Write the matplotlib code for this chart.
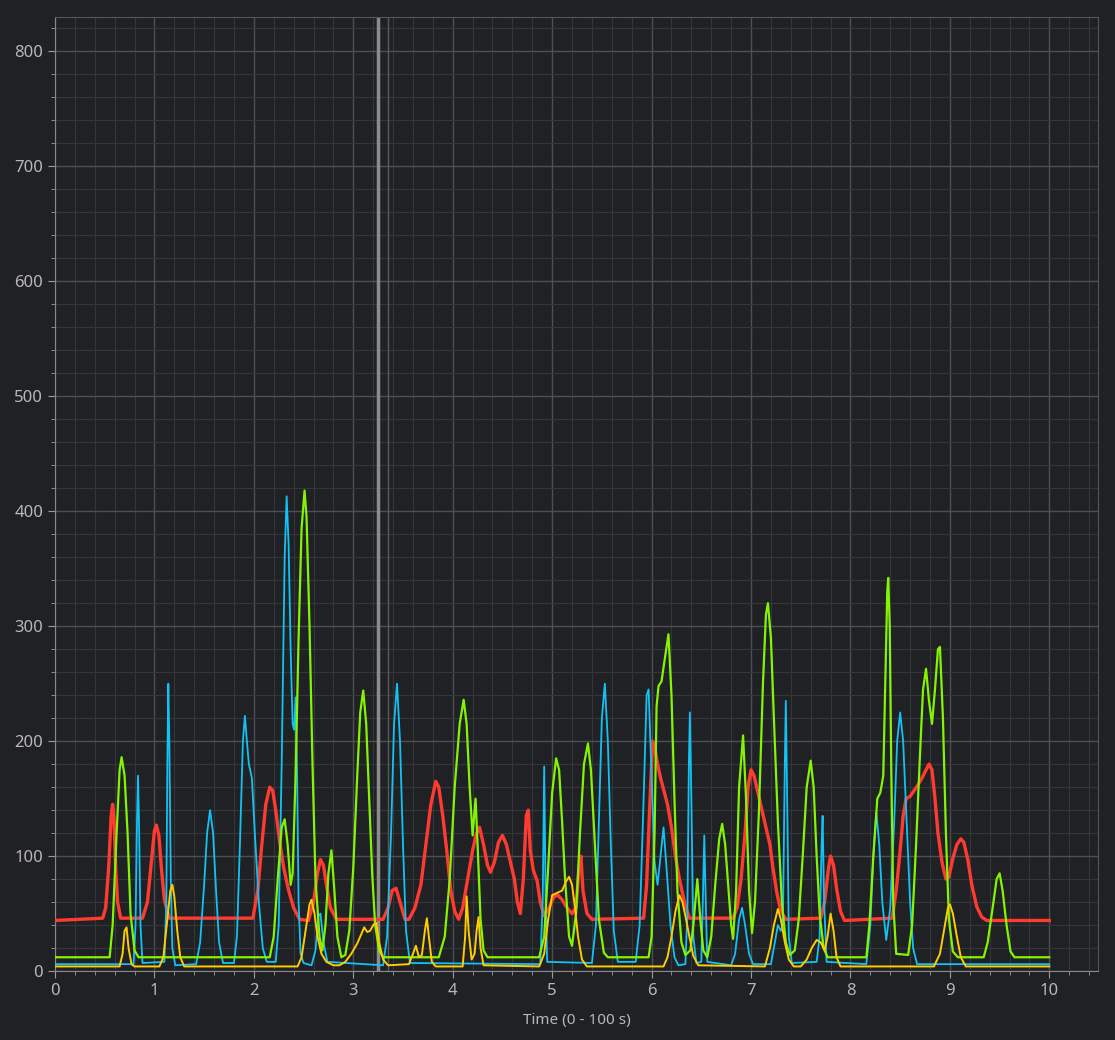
import numpy as np
import matplotlib
matplotlib.use("Agg")
import matplotlib.pyplot as plt
from matplotlib.ticker import MultipleLocator, AutoMinorLocator

# key points, as (time, value) pairs
red_pts = [
    (0.0, 44), (0.48, 46), (0.51, 55), (0.54, 90), (0.565, 135), (0.58, 145), (0.595, 130), (0.61, 90),
    (0.63, 60), (0.66, 46), (0.88, 46), (0.93, 60), (0.97, 95), (1.0, 122), (1.02, 127), (1.045, 118),
    (1.07, 90), (1.1, 62), (1.15, 46), (1.99, 46), (2.04, 70), (2.08, 110), (2.12, 145), (2.16, 160),
    (2.19, 157), (2.22, 140), (2.26, 112), (2.3, 90), (2.35, 70), (2.4, 55), (2.46, 45), (2.55, 44),
    (2.6, 60), (2.64, 85), (2.67, 97), (2.7, 92), (2.73, 75), (2.77, 55), (2.83, 45), (3.3, 45),
    (3.35, 55), (3.39, 70), (3.43, 72), (3.47, 60), (3.52, 45), (3.56, 45), (3.62, 55), (3.68, 75),
    (3.73, 110), (3.78, 145), (3.83, 165), (3.86, 160), (3.9, 135), (3.94, 105), (3.98, 70), (4.02, 52),
    (4.06, 45), (4.1, 55), (4.15, 80), (4.2, 105), (4.24, 120), (4.27, 125), (4.31, 110), (4.35, 92),
    (4.38, 86), (4.42, 95), (4.46, 112), (4.5, 118), (4.54, 110), (4.58, 95), (4.62, 80), (4.65, 60),
    (4.68, 50), (4.71, 80), (4.74, 135), (4.76, 140), (4.78, 105), (4.81, 88), (4.85, 78), (4.88, 60),
    (4.92, 48), (4.97, 55), (5.02, 65), (5.06, 66), (5.1, 62), (5.15, 55), (5.2, 50), (5.24, 55),
    (5.27, 90), (5.29, 100), (5.31, 70), (5.35, 50), (5.4, 45), (5.92, 46), (5.95, 75), (5.98, 140),
    (6.01, 200), (6.03, 195), (6.06, 180), (6.09, 168), (6.12, 158), (6.16, 145), (6.2, 125), (6.24, 100),
    (6.28, 80), (6.33, 60), (6.38, 46), (6.82, 46), (6.86, 55), (6.9, 80), (6.94, 120), (6.97, 160),
    (7.0, 175), (7.03, 170), (7.07, 155), (7.11, 140), (7.15, 125), (7.19, 110), (7.22, 90), (7.26, 68),
    (7.3, 52), (7.35, 45), (7.7, 46), (7.74, 60), (7.78, 90), (7.8, 100), (7.83, 92), (7.86, 72),
    (7.9, 52), (7.94, 44), (8.42, 46), (8.46, 70), (8.5, 105), (8.53, 135), (8.56, 150), (8.6, 152),
    (8.64, 157), (8.68, 162), (8.72, 168), (8.76, 175), (8.79, 180), (8.82, 175), (8.85, 150), (8.88, 120),
    (8.92, 95), (8.96, 80), (8.99, 82), (9.03, 98), (9.07, 110), (9.11, 115), (9.14, 112), (9.18, 97),
    (9.22, 75), (9.27, 56), (9.32, 47), (9.37, 44), (10.0, 44),
]

cyan_pts = [
    (0.0, 6), (0.79, 6), (0.81, 40), (0.825, 130), (0.835, 170), (0.845, 130), (0.86, 40), (0.88, 7),
    (1.1, 8), (1.12, 60), (1.13, 180), (1.14, 250), (1.15, 200), (1.165, 80), (1.18, 20), (1.21, 5),
    (1.42, 6), (1.46, 25), (1.5, 75), (1.53, 120), (1.56, 140), (1.59, 120), (1.62, 70), (1.65, 25),
    (1.69, 7), (1.8, 7), (1.83, 30), (1.86, 110), (1.89, 200), (1.91, 222), (1.93, 200), (1.95, 180),
    (1.98, 168), (2.01, 120), (2.05, 60), (2.09, 20), (2.13, 8), (2.22, 8), (2.25, 40), (2.28, 180),
    (2.31, 360), (2.33, 413), (2.35, 370), (2.37, 280), (2.39, 215), (2.405, 210), (2.42, 238), (2.435, 170),
    (2.45, 60), (2.47, 15), (2.5, 7), (2.58, 5), (2.62, 18), (2.65, 48), (2.67, 50), (2.7, 25),
    (2.74, 8), (3.3, 5), (3.34, 30), (3.38, 120), (3.41, 215), (3.44, 250), (3.47, 200), (3.5, 110),
    (3.53, 35), (3.57, 7), (4.88, 6), (4.905, 60), (4.92, 178), (4.935, 60), (4.95, 8), (5.4, 7),
    (5.44, 40), (5.47, 130), (5.5, 220), (5.53, 250), (5.56, 200), (5.59, 110), (5.62, 35), (5.66, 8),
    (5.84, 8), (5.88, 40), (5.92, 150), (5.95, 240), (5.97, 245), (6.0, 170), (6.03, 95), (6.06, 75),
    (6.09, 100), (6.12, 125), (6.15, 90), (6.19, 40), (6.23, 12), (6.27, 5), (6.34, 6), (6.36, 50),
    (6.375, 180), (6.385, 225), (6.4, 150), (6.42, 30), (6.45, 7), (6.5, 8), (6.515, 60), (6.53, 118),
    (6.545, 60), (6.56, 8), (6.8, 5), (6.84, 15), (6.88, 45), (6.91, 55), (6.94, 40), (6.98, 15),
    (7.02, 6), (7.2, 6), (7.24, 25), (7.27, 40), (7.3, 35), (7.32, 40), (7.34, 180), (7.35, 235),
    (7.365, 140), (7.38, 30), (7.41, 7), (7.66, 8), (7.69, 30), (7.71, 110), (7.72, 135), (7.735, 60),
    (7.76, 8), (8.16, 6), (8.2, 40), (8.23, 100), (8.26, 138), (8.29, 110), (8.32, 60), (8.36, 27),
    (8.4, 55), (8.44, 130), (8.47, 200), (8.5, 225), (8.53, 200), (8.56, 140), (8.6, 60), (8.63, 20),
    (8.67, 6), (10.0, 6),
]

green_pts = [
    (0.0, 12), (0.55, 12), (0.58, 40), (0.62, 120), (0.65, 175), (0.67, 186), (0.7, 170), (0.73, 120),
    (0.76, 50), (0.8, 18), (0.84, 12), (2.16, 12), (2.2, 30), (2.24, 80), (2.28, 125), (2.31, 132),
    (2.34, 110), (2.37, 75), (2.39, 85), (2.42, 170), (2.45, 290), (2.48, 385), (2.51, 418), (2.53, 395),
    (2.56, 300), (2.59, 180), (2.62, 80), (2.66, 30), (2.69, 18), (2.72, 40), (2.75, 85), (2.78, 105),
    (2.81, 70), (2.84, 30), (2.88, 12), (2.92, 14), (2.96, 35), (3.0, 90), (3.04, 170), (3.07, 225),
    (3.1, 244), (3.13, 215), (3.16, 150), (3.19, 85), (3.22, 40), (3.26, 18), (3.3, 12), (3.86, 12),
    (3.92, 30), (3.97, 80), (4.02, 160), (4.07, 215), (4.11, 236), (4.14, 215), (4.17, 160), (4.2, 118),
    (4.23, 150), (4.25, 110), (4.28, 45), (4.31, 18), (4.35, 12), (4.87, 12), (4.92, 30), (4.96, 90),
    (5.0, 155), (5.04, 185), (5.07, 175), (5.1, 130), (5.13, 80), (5.17, 30), (5.2, 22), (5.24, 50),
    (5.28, 120), (5.32, 180), (5.36, 198), (5.39, 175), (5.43, 110), (5.47, 45), (5.52, 16), (5.56, 12),
    (5.97, 12), (6.0, 30), (6.03, 120), (6.05, 230), (6.07, 248), (6.1, 252), (6.13, 270), (6.17, 293),
    (6.2, 240), (6.23, 150), (6.26, 70), (6.3, 25), (6.34, 14), (6.39, 18), (6.42, 40), (6.46, 80),
    (6.49, 45), (6.52, 18), (6.56, 12), (6.6, 30), (6.64, 75), (6.68, 115), (6.71, 128), (6.74, 110),
    (6.77, 75), (6.8, 40), (6.82, 28), (6.85, 70), (6.88, 160), (6.92, 205), (6.95, 150), (6.98, 70),
    (7.01, 33), (7.04, 60), (7.08, 140), (7.12, 250), (7.15, 310), (7.17, 320), (7.2, 290), (7.23, 220),
    (7.27, 130), (7.31, 60), (7.35, 25), (7.39, 14), (7.44, 18), (7.48, 45), (7.52, 100), (7.56, 160),
    (7.6, 183), (7.63, 160), (7.66, 100), (7.69, 50), (7.73, 20), (7.77, 12), (8.16, 12), (8.19, 40),
    (8.23, 100), (8.27, 150), (8.3, 155), (8.33, 170), (8.35, 250), (8.37, 330), (8.38, 342), (8.395, 300),
    (8.41, 180), (8.43, 60), (8.46, 15), (8.58, 14), (8.62, 40), (8.66, 110), (8.7, 190), (8.73, 245),
    (8.76, 263), (8.79, 235), (8.82, 215), (8.85, 245), (8.88, 280), (8.9, 282), (8.93, 220), (8.96, 120),
    (8.99, 45), (9.03, 17), (9.08, 12), (9.34, 12), (9.38, 25), (9.43, 55), (9.47, 80), (9.5, 85),
    (9.53, 70), (9.57, 40), (9.61, 17), (9.65, 12), (10.0, 12),
]

yellow_pts = [
    (0.0, 4), (0.65, 4), (0.68, 15), (0.7, 35), (0.72, 38), (0.74, 20), (0.77, 6), (0.8, 4),
    (1.05, 4), (1.09, 12), (1.13, 45), (1.16, 70), (1.18, 75), (1.2, 65), (1.23, 35), (1.26, 12),
    (1.3, 4), (2.44, 4), (2.48, 12), (2.52, 35), (2.56, 58), (2.58, 62), (2.61, 50), (2.64, 30),
    (2.68, 15), (2.73, 8), (2.8, 5), (2.86, 5), (2.92, 8), (2.98, 15), (3.04, 24), (3.08, 32),
    (3.11, 38), (3.14, 34), (3.17, 35), (3.2, 40), (3.23, 42), (3.26, 25), (3.3, 10), (3.35, 5),
    (3.56, 6), (3.6, 15), (3.63, 22), (3.66, 12), (3.69, 14), (3.72, 35), (3.74, 46), (3.76, 30),
    (3.79, 8), (3.83, 4), (4.1, 4), (4.125, 30), (4.14, 65), (4.16, 35), (4.19, 10), (4.22, 15),
    (4.24, 35), (4.26, 47), (4.28, 20), (4.31, 5), (4.87, 4), (4.92, 15), (4.96, 45), (5.0, 66),
    (5.05, 68), (5.1, 70), (5.14, 78), (5.17, 82), (5.2, 75), (5.23, 55), (5.26, 30), (5.3, 10),
    (5.35, 4), (6.12, 4), (6.16, 12), (6.2, 30), (6.24, 52), (6.28, 66), (6.31, 60), (6.34, 48),
    (6.38, 30), (6.42, 13), (6.47, 5), (7.14, 4), (7.19, 20), (7.23, 40), (7.27, 54), (7.3, 45),
    (7.34, 25), (7.38, 10), (7.43, 4), (7.5, 4), (7.56, 10), (7.61, 20), (7.66, 27), (7.7, 25),
    (7.74, 18), (7.77, 30), (7.8, 50), (7.83, 35), (7.86, 12), (7.9, 4), (8.84, 4), (8.9, 15),
    (8.94, 35), (8.98, 55), (9.0, 58), (9.03, 50), (9.07, 30), (9.11, 12), (9.16, 4), (10.0, 4),
]

series = [
    (red_pts, "#ff3b30", 2.4),
    (cyan_pts, "#12c2f5", 1.3),
    (green_pts, "#84f500", 1.6),
    (yellow_pts, "#ffcc00", 1.4),
]

bg = "#202124"
fig = plt.figure(figsize=(11.15, 10.4), dpi=100, facecolor=bg)
ax = fig.add_axes([0.0493, 0.0663, 0.9355, 0.9174], facecolor=bg)

for i, (pts, col, lw) in enumerate(series):
    xs, ys = zip(*pts)
    ax.plot(xs, ys, color=col, lw=lw, zorder=3 + i)

# cursor line
ax.axvline(3.25, color="#8c8c8c", lw=2.5, zorder=2)
ax.axvline(3.35, color="#5a5a5a", lw=1.0, zorder=1)

ax.set_xlim(0, 10.49)
ax.set_ylim(0, 830)
ax.xaxis.set_major_locator(MultipleLocator(1))
ax.yaxis.set_major_locator(MultipleLocator(100))
ax.xaxis.set_minor_locator(AutoMinorLocator(5))
ax.yaxis.set_minor_locator(AutoMinorLocator(5))
ax.grid(True, which="major", color="#4e4f52", lw=1.0)
ax.grid(True, which="minor", color="#35363a", lw=0.8)
ax.set_axisbelow(True)

ax.tick_params(which="major", colors="#9a9a9a", labelcolor="#b8b8b8", labelsize=12, length=5)
ax.tick_params(which="minor", colors="#9a9a9a", length=3)
for s in ax.spines.values():
    s.set_color("#555659")
ax.spines["left"].set_color("#8a8a8a")
ax.spines["bottom"].set_color("#8a8a8a")

for lab in ax.get_xticklabels() + ax.get_yticklabels():
    lab.set_family("Noto Sans")
ax.set_xlabel("Time (0 - 100 s)", color="#b8b8b8", fontsize=11, family="Noto Sans", labelpad=10)

fig.savefig("out.png", dpi=100, facecolor=bg)
